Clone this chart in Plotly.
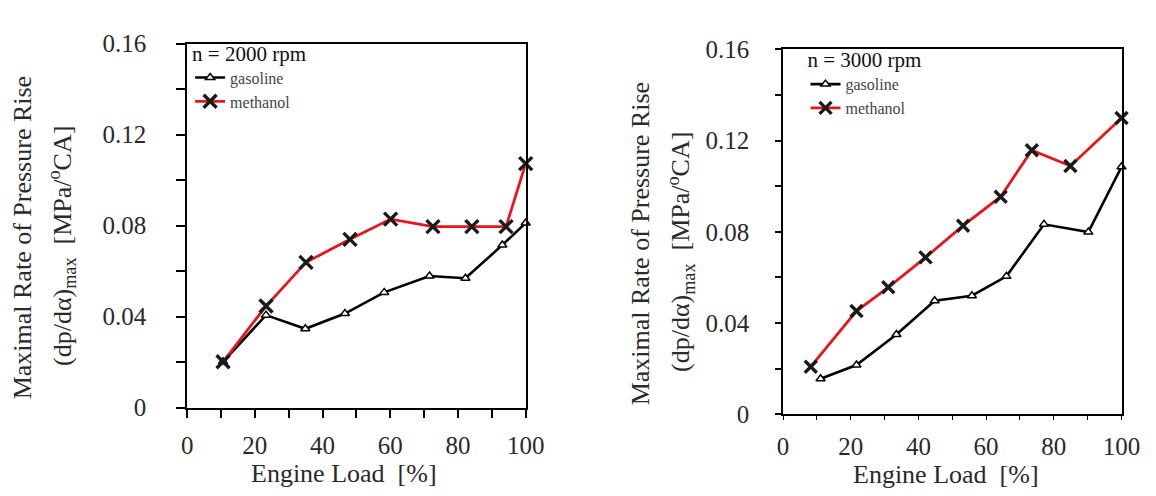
import plotly.graph_objects as go

# ---------------- data ----------------
load_gas_2000 = [10.6, 23.3, 34.9, 46.6, 58.2, 71.6, 82.2, 93.1, 100.0]
rate_gas_2000 = [0.0202, 0.0407, 0.0347, 0.0414, 0.0507, 0.0579, 0.0569, 0.0715, 0.0812]
load_met_2000 = [10.6, 23.3, 35.1, 48.1, 60.1, 72.6, 84.1, 94.2, 100.0]
rate_met_2000 = [0.0202, 0.0447, 0.0639, 0.0740, 0.0829, 0.0796, 0.0796, 0.0796, 0.1073]

load_gas_3000 = [11.1, 21.7, 33.5, 44.8, 55.8, 66.0, 77.1, 90.2, 100.0]
rate_gas_3000 = [0.0156, 0.0216, 0.0350, 0.0498, 0.0520, 0.0605, 0.0833, 0.0799, 0.1085]
load_met_3000 = [8.2, 21.7, 31.1, 42.1, 53.2, 64.3, 73.5, 84.9, 100.0]
rate_met_3000 = [0.0209, 0.0453, 0.0557, 0.0688, 0.0827, 0.0954, 0.1158, 0.1089, 0.1299]

x_ticks = [0, 20, 40, 60, 80, 100]
y_ticks = [0, 0.04, 0.08, 0.12, 0.16]
y_tick_text = ["0", "0.04", "0.08", "0.12", "0.16"]
speed_titles = ["n = 2000 rpm", "n = 3000 rpm"]
fuel_names = ["gasoline", "methanol"]
x_title = "Engine Load  [%]"
y_title_1 = "Maximal Rate of Pressure Rise"
y_title_2 = "(dp/dα)<sub>max</sub>  [MPa/<sup>o</sup>CA]"

# ---------------- figure ----------------
W, H = 1156, 496
FONT = "'Liberation Serif', Tinos, 'Times New Roman', Times, 'DejaVu Serif', serif"
TXT = "#2a2a2a"
fig = go.Figure()

panels = [
    dict(xa="x", ya="y", leg="legend", gx=load_gas_2000, gy=rate_gas_2000,
         mx=load_met_2000, my=rate_met_2000, msize=13),
    dict(xa="x2", ya="y2", leg="legend2", gx=load_gas_3000, gy=rate_gas_3000,
         mx=load_met_3000, my=rate_met_3000, msize=12),
]

for p in panels:
    fig.add_trace(go.Scatter(
        x=p["gx"], y=p["gy"], xaxis=p["xa"], yaxis=p["ya"], mode="lines+markers",
        name=fuel_names[0], legend=p["leg"],
        line=dict(color="black", width=2.6),
        marker=dict(symbol="triangle-up", size=8, color="white",
                    line=dict(color="black", width=1.5)),
        cliponaxis=False))
    fig.add_trace(go.Scatter(
        x=p["mx"], y=p["my"], xaxis=p["xa"], yaxis=p["ya"], mode="lines+markers",
        name=fuel_names[1], legend=p["leg"],
        line=dict(color="#e8161c", width=2.8),
        marker=dict(symbol="x-thin", size=p["msize"], color="#1a1a1a",
                    line=dict(color="#1a1a1a", width=3.4)),
        cliponaxis=False))


def px_x(v):
    return v / W


def px_y(v):
    return 1 - v / H


axis_common = dict(showgrid=False, zeroline=False, showline=True, mirror=True,
                   linecolor="black", ticks="outside", tickcolor="black",
                   tickfont=dict(family=FONT, size=25, color=TXT))

fig.update_layout(
    width=W, height=H, margin=dict(l=0, r=0, t=0, b=0),
    paper_bgcolor="white", plot_bgcolor="white",
    font=dict(family=FONT, color=TXT),
    xaxis=dict(domain=[px_x(177), px_x(523)], anchor="y", range=[0, 100],
               tickvals=x_ticks, ticklen=8, tickwidth=2, linewidth=2,
               ticklabelstandoff=6,
               minor=dict(dtick=10, tick0=0, ticks="outside", ticklen=8,
                          tickwidth=2, tickcolor="black"),
               **axis_common),
    yaxis=dict(domain=[px_y(409), px_y(24)], anchor="x", range=[0, 0.16],
               tickvals=y_ticks, ticktext=y_tick_text, ticklen=9, tickwidth=2,
               linewidth=2, ticklabelstandoff=25,
               minor=dict(dtick=0.02, tick0=0, ticks="outside", ticklen=9,
                          tickwidth=2, tickcolor="black"),
               **axis_common),
    xaxis2=dict(domain=[px_x(786), px_x(1132)], anchor="y2", range=[0, 100],
                tickvals=x_ticks, ticklen=4, tickwidth=1.2, linewidth=1.5,
                ticklabelstandoff=5,
                minor=dict(dtick=10, tick0=0, ticks="outside", ticklen=4,
                           tickwidth=1.2, tickcolor="black"),
                **axis_common),
    yaxis2=dict(domain=[px_y(416), px_y(30)], anchor="x2", range=[0, 0.16],
                tickvals=y_ticks, ticktext=y_tick_text, ticklen=6, tickwidth=1.5,
                linewidth=1.5, ticklabelstandoff=21,
                minor=dict(dtick=0.02, tick0=0, ticks="outside", ticklen=6,
                           tickwidth=1.5, tickcolor="black"),
                **axis_common),
    legend=dict(x=px_x(180), y=px_y(13), xanchor="left", yanchor="top",
                bgcolor="rgba(0,0,0,0)", tracegroupgap=0,
                title=dict(text=speed_titles[0], font=dict(family=FONT, size=21, color="#111")),
                font=dict(family=FONT, size=16, color="#444")),
    legend2=dict(x=px_x(809), y=px_y(20), xanchor="left", yanchor="top",
                 bgcolor="rgba(0,0,0,0)", tracegroupgap=0,
                 title=dict(text=speed_titles[1], font=dict(family=FONT, size=21, color="#111")),
                 font=dict(family=FONT, size=16, color="#444")),
    showlegend=True,
)

annos = [
    (y_title_1, 9, 229, -90), (y_title_2, 49, 238, -90),
    (y_title_1, 640, 235, -90), (y_title_2, 681, 244, -90),
    (x_title, 337, 479, 0), (x_title, 953, 480, 0),
]
for text, ax, ay, ang in annos:
    fig.add_annotation(text=text, x=px_x(ax), y=px_y(ay), xref="paper", yref="paper",
                       xanchor="center", yanchor="middle", textangle=ang,
                       showarrow=False, font=dict(family=FONT, size=26, color=TXT))

fig.write_html("out.html")
